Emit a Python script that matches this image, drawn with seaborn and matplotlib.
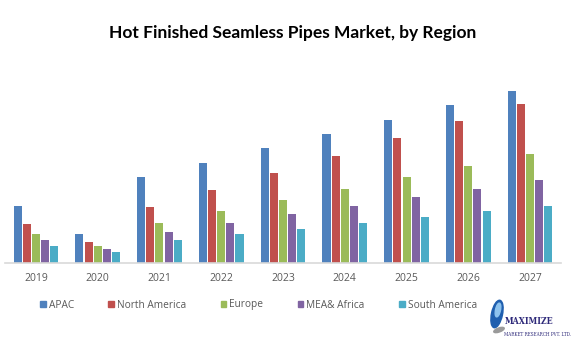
import matplotlib
matplotlib.use("Agg")
import matplotlib.pyplot as plt
from matplotlib.patches import Ellipse, Rectangle
import pandas as pd
import seaborn as sns

years = ["2019", "2020", "2021", "2022", "2023", "2024", "2025", "2026", "2027"]
regions = ["APAC", "North America", "Europe", "MEA& Africa", "South America"]
apac = [57, 29, 86, 100, 115, 129, 143, 158, 172]
north_america = [39, 21, 56, 73, 90, 107, 125, 142, 159]
europe = [29, 17, 40, 52, 63, 74, 86, 97, 109]
mea_africa = [23, 14, 31, 40, 49, 57, 66, 74, 83]
south_america = [17, 11, 23, 29, 34, 40, 46, 52, 57]
palette = ["#4F81BD", "#C0504D", "#9BBB59", "#8064A2", "#4BACC6"]

series = [apac, north_america, europe, mea_africa, south_america]
df = pd.DataFrame(
    [(y, r, v) for r, vals in zip(regions, series) for y, v in zip(years, vals)],
    columns=["Year", "Region", "Value"],
)

sns.set_theme(style="white")
plt.rcParams["font.family"] = ["Open Sans", "DejaVu Sans"]

W, H = 576, 341
fig = plt.figure(figsize=(W / 100, H / 100), dpi=100)
ax = fig.add_axes([5 / W, (H - 263) / H, 556 / W, 203 / H])

sns.barplot(
    data=df, x="Year", y="Value", hue="Region", order=years, hue_order=regions,
    palette=palette, width=0.74, gap=0.12, saturation=1, linewidth=0,
    ax=ax, legend=False,
)

ax.set_ylim(0, 203)
ax.set_xlim(-0.5, len(years) - 0.5)
ax.set_xlabel("")
ax.set_ylabel("")
ax.set_yticks([])
for side in ["left", "right", "top"]:
    ax.spines[side].set_visible(False)
ax.spines["bottom"].set_color("#D9D9D9")
ax.spines["bottom"].set_linewidth(1.2)
ax.tick_params(axis="x", length=0, pad=7, labelsize=7.5, labelcolor="#595959")

fig.text(293 / W, 1 - 33 / H, "Hot Finished Seamless Pipes Market, by Region",
         ha="center", va="center", fontsize=12.5, fontweight="bold",
         color="#000000", family=["Lato", "DejaVu Sans"])

handles = [Rectangle((0, 0), 1, 1, color=c) for c in palette]
fig.legend(handles, regions, loc="center left", bbox_to_anchor=(40 / W, 1 - 305 / H),
           ncol=5, frameon=False, fontsize=7.3, labelcolor="#595959",
           handlelength=0.55, handleheight=0.55, handletextpad=0.3,
           columnspacing=3.4, borderaxespad=0, borderpad=0)

# company mark in the lower right corner, drawn in pixel units
logo = fig.add_axes([485 / W, 0, 91 / W, 48 / H])
logo.set_xlim(485, 576)
logo.set_ylim(341, 293)
logo.axis("off")
logo.add_patch(Ellipse((497, 314), 11, 28, angle=12, color="#1F5FAF"))
logo.add_patch(Ellipse((498, 310), 5, 14, angle=12, color="#8EC3EE"))
logo.add_patch(Ellipse((499, 330), 11, 4, angle=-20, color="#9A9A9A"))
logo.text(505, 322, "MAXIMIZE", fontsize=6.3, fontweight="bold", color="#2E2A7A",
          family="DejaVu Serif", stretch="condensed", va="center", ha="left")
logo.text(504, 334, "MARKET RESEARCH PVT. LTD.", fontsize=3.3, color="#2E2A7A",
          family="DejaVu Serif", stretch="condensed", va="center", ha="left")

fig.savefig("out.png", dpi=100)
